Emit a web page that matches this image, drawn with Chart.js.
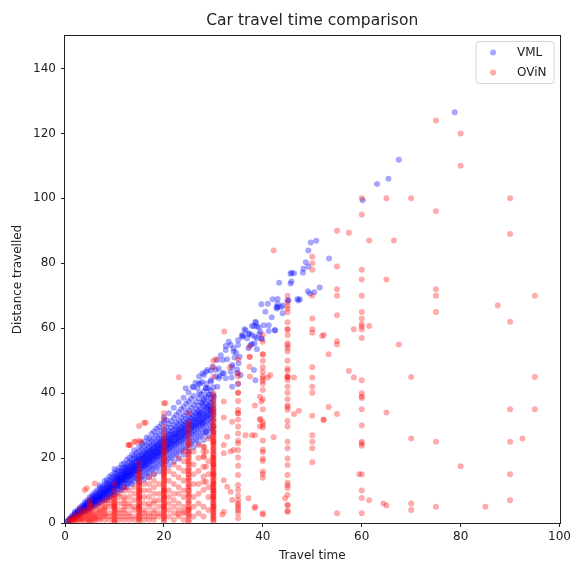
<!DOCTYPE html>
<html lang="en">
<head>
    <meta charset="UTF-8">
    <title>Car travel time comparison</title>
    <script src="https://cdn.jsdelivr.net/npm/chart.js"></script>
    <style>
        body {
            margin: 0;
            background-color: #fff;
        }
        #wrap {
            width: 574px;
            height: 562px;
        }
    </style>
</head>
<body>

<div id="wrap">
    <canvas id="travelChart" width="574" height="562"></canvas>
</div>

<script>
    // axis ticks
    const timeTicks = [0, 20, 40, 60, 80, 100];
    const distTicks = [0, 20, 40, 60, 80, 100, 120, 140];

    // VML: dense band, [travel time, [distances...]]
    const vmlBandShort = [
        [0.5, [0.3, 0.5, 0.7]],
        [1, [0.8, 1.0, 1.2, 1.5]],
        [1.5, [1.2, 1.5, 1.8, 2.0, 2.4]],
        [2, [1.7, 2.1, 2.4, 2.6, 3.0, 3.4]],
        [2.5, [2.2, 2.6, 2.9, 3.2, 3.5, 4.0]],
        [3, [2.6, 3.0, 3.3, 3.6, 3.9, 4.3, 4.8]],
        [3.5, [3.1, 3.6, 3.9, 4.2, 4.5, 4.9, 5.5]],
        [4, [3.5, 3.9, 4.3, 4.6, 4.9, 5.3, 5.8, 6.4]],
        [4.5, [3.9, 4.4, 4.8, 5.1, 5.5, 5.9, 6.3, 7.0]],
        [5, [4.4, 4.9, 5.3, 5.6, 5.9, 6.3, 6.7, 7.2, 7.9]],
        [5.5, [4.8, 5.4, 5.8, 6.2, 6.5, 6.9, 7.4, 8.0, 8.7]],
        [6, [5.3, 5.8, 6.4, 6.7, 7.1, 7.4, 7.9, 8.5, 9.4]],
        [6.5, [5.7, 6.3, 6.8, 7.2, 7.6, 8.1, 8.5, 9.2, 10.1]],
        [7, [6.2, 6.9, 7.4, 7.8, 8.2, 8.6, 9.1, 9.9, 10.8, 11.6]],
        [7.5, [6.6, 7.3, 7.9, 8.3, 8.8, 9.3, 9.6, 10.4, 11.2]],
        [8, [7.0, 7.8, 8.5, 8.9, 9.3, 9.8, 10.3, 10.9, 11.8, 12.9]],
        [8.5, [7.5, 8.2, 8.9, 9.5, 9.9, 10.3, 10.9, 11.6, 12.4, 13.4]],
        [9, [7.9, 8.8, 9.5, 10.0, 10.4, 10.9, 11.5, 12.1, 13.0, 14.3]],
        [9.5, [8.4, 9.2, 10.0, 10.6, 11.0, 11.6, 12.1, 12.8, 13.8, 14.8]],
        [10, [8.8, 9.7, 10.5, 11.1, 11.5, 12.0, 12.7, 13.3, 14.2, 15.5, 16.6]]
    ];
    const vmlBandMid = [
        [10.5, [9.4, 10.6, 11.3, 11.7, 12.0, 12.6, 12.8, 13.5, 13.9, 14.3, 15.2, 16.1]],
        [11, [10.3, 11.4, 11.9, 12.3, 12.9, 13.2, 13.8, 14.1, 14.7, 15.8, 17.0]],
        [11.5, [10.2, 10.9, 12.5, 12.8, 13.4, 13.6, 14.2, 14.9, 15.3, 16.0, 16.8, 18.1]],
        [12, [11.2, 12.4, 13.0, 13.7, 14.0, 14.5, 15.1, 15.4, 16.3, 17.1, 18.4]],
        [12.5, [11.1, 12.0, 13.3, 13.9, 14.4, 14.8, 15.5, 15.9, 16.6, 17.2, 17.9, 19.5]],
        [13, [12.3, 13.1, 14.2, 14.5, 15.1, 15.6, 16.0, 16.8, 17.4, 18.6, 20.1]],
        [13.5, [11.9, 13.5, 14.6, 15.0, 15.7, 16.3, 16.6, 17.2, 18.1, 18.5, 19.5, 21.0]],
        [14, [12.8, 14.1, 15.2, 15.8, 16.2, 16.9, 17.5, 17.8, 18.7, 19.9, 20.8, 22.4]],
        [14.5, [13.6, 14.7, 15.9, 16.4, 17.1, 17.3, 18.0, 18.9, 19.4, 20.3, 21.7]],
        [15, [12.4, 13.9, 15.4, 16.2, 16.7, 17.6, 18.1, 18.5, 19.2, 19.9, 20.6, 22.0, 23.5]],
        [15.5, [14.2, 15.8, 16.8, 17.5, 17.9, 18.6, 19.4, 19.8, 20.7, 21.2, 22.8, 24.6]],
        [16, [13.3, 14.8, 16.5, 17.4, 18.2, 18.6, 19.3, 20.0, 20.4, 21.3, 22.0, 23.5, 25.0]],
        [16.5, [15.3, 16.9, 17.9, 18.3, 19.1, 19.8, 20.3, 21.1, 21.6, 22.5, 24.0, 26.3]],
        [17, [14.2, 15.6, 17.2, 18.5, 19.0, 19.6, 20.4, 20.8, 21.7, 22.3, 23.3, 24.7, 26.0]],
        [17.5, [16.4, 17.8, 19.0, 19.7, 20.1, 20.9, 21.5, 22.2, 22.8, 23.9, 25.4, 27.5]],
        [18, [15.0, 16.7, 18.3, 19.5, 20.3, 20.8, 21.6, 22.0, 22.9, 23.6, 24.5, 26.1, 28.2]],
        [18.5, [17.2, 18.9, 20.1, 20.6, 21.4, 22.1, 22.6, 23.4, 24.0, 25.1, 26.9, 29.0]],
        [19, [15.9, 17.6, 19.4, 20.6, 21.3, 21.9, 22.7, 23.2, 24.1, 24.7, 25.8, 27.4, 29.6]],
        [19.5, [18.3, 19.9, 21.2, 21.8, 22.5, 23.1, 23.9, 24.4, 25.3, 26.2, 28.3, 30.6]],
        [20, [16.8, 18.6, 20.4, 21.7, 22.2, 23.0, 23.6, 24.5, 25.0, 25.9, 27.0, 28.9, 31.2, 32.6]]
    ];
    const vmlBandLong = [
        [20.5, [19.1, 20.9, 22.3, 22.8, 23.7, 24.2, 25.1, 25.9, 26.6, 27.8, 29.6, 31.7]],
        [21, [17.8, 19.7, 21.5, 22.9, 23.5, 24.3, 25.0, 25.7, 26.4, 27.3, 28.4, 30.5, 33.8]],
        [21.5, [20.2, 22.0, 23.4, 24.1, 24.9, 25.6, 26.2, 27.1, 28.0, 29.3, 31.4]],
        [22, [18.9, 20.8, 22.6, 24.0, 24.6, 25.4, 26.3, 27.0, 27.6, 28.7, 30.2, 32.4, 35.5]],
        [22.5, [21.3, 23.1, 24.5, 25.2, 26.0, 26.9, 27.4, 28.5, 29.4, 30.9, 33.3]],
        [23, [19.8, 21.9, 23.7, 25.1, 25.7, 26.6, 27.5, 28.1, 28.9, 30.0, 31.6, 34.1, 37.2]],
        [23.5, [22.4, 24.3, 25.6, 26.4, 27.2, 28.0, 28.8, 29.6, 30.7, 32.5, 35.0]],
        [24, [21.0, 22.9, 24.8, 26.2, 26.9, 27.8, 28.6, 29.3, 30.2, 31.4, 33.2, 35.7, 38.6]],
        [24.5, [23.4, 25.4, 26.7, 27.6, 28.3, 29.2, 30.0, 30.9, 32.1, 34.0, 36.7]],
        [25, [22.0, 24.0, 25.9, 27.4, 28.1, 29.0, 29.8, 30.6, 31.5, 32.8, 34.7, 37.4, 40.2]],
        [25.5, [24.6, 26.4, 27.9, 28.8, 29.7, 30.3, 31.3, 32.2, 33.6, 35.6, 38.3]],
        [26, [23.3, 25.2, 27.1, 28.5, 29.4, 30.1, 31.0, 31.9, 32.9, 34.3, 36.4, 39.1, 41.8]],
        [26.5, [25.7, 27.6, 29.1, 30.0, 30.8, 31.7, 32.6, 33.7, 35.2, 37.3]],
        [27, [24.5, 26.3, 28.2, 29.8, 30.6, 31.5, 32.3, 33.3, 34.5, 36.1, 38.4, 42.9]],
        [27.5, [26.9, 28.8, 30.3, 31.2, 32.1, 33.0, 34.0, 35.2, 37.0, 39.6]],
        [28, [25.6, 27.5, 29.4, 30.9, 31.8, 32.7, 33.6, 34.7, 36.0, 37.8, 40.5]],
        [28.5, [28.0, 29.9, 31.4, 32.4, 33.3, 34.3, 35.5, 36.9, 38.8, 41.6]],
        [29, [26.7, 28.6, 30.6, 32.1, 33.0, 33.9, 35.0, 36.2, 37.6, 39.7]],
        [29.5, [29.2, 31.1, 32.6, 33.6, 34.6, 35.7, 37.0, 38.5, 40.7]],
        [30, [27.9, 29.8, 31.8, 33.3, 34.3, 35.3, 36.4, 37.7, 39.4, 41.8]]
    ];
    // VML: single trips, [travel time, distance]
    const vmlSparse = [
        [27.8, 46.1], [28.8, 47.1], [29.8, 48.1], [27.4, 43], [28.5, 41.5], [29.5, 43.5], [27.1, 39.9],
        [28.1, 38.4], [29.1, 39.4], [30.1, 38.9], [27.8, 36.9], [28.8, 35.8], [29.5, 34.8], [27.1, 33.8],
        [27.8, 30.7], [28.5, 28.1], [30.8, 50.2], [31.5, 51.7], [32.5, 53.3], [33.5, 54.8], [34.1, 52.8],
        [35, 54.8], [35.8, 57.4], [36.8, 56.9], [37.8, 57.9], [38.8, 56.9], [39.5, 58.9], [33.8, 48.1],
        [34.8, 46.1], [35.5, 45.6], [31.8, 46.1], [30.5, 47.1], [31.1, 44.6], [32.5, 44.6], [33.5, 46.6],
        [35.1, 49.2], [38.5, 44], [37.1, 53.8], [27.1, 45.1], [28.1, 45.6], [27.7, 43.5], [28.6, 43],
        [29.5, 44], [30.5, 45.1], [26.4, 43.2], [25.8, 42], [24.4, 41.5], [26.8, 41.5], [29, 41.5],
        [30.8, 42], [33.8, 42], [35, 42.8], [28.5, 46.6], [29.5, 46.9], [31.1, 47.6], [32.1, 46.1],
        [33.7, 44.8], [31.3, 45.3], [31.9, 50.2], [32.8, 50.4], [34.3, 51], [33.8, 48.7], [34.8, 47.3],
        [38.2, 47.1], [35, 56.4], [34.1, 53.8], [33.1, 55.8], [32.5, 54.5], [34.6, 52.4], [35.3, 51.2],
        [38.6, 61.7], [38.2, 60.7], [39.2, 60.3], [40.2, 60.9], [41.2, 60.9], [42.4, 59.4], [36.5, 59.4],
        [35.8, 57.9], [37.1, 58.2], [38.4, 57.4], [39.8, 56.6], [37.8, 55.1], [38.8, 53.5], [36, 57.6],
        [42, 68.9], [42.8, 66.6], [39.7, 67.4], [40.5, 65.1], [41.8, 63.4], [50.8, 86.9], [49.7, 86.4],
        [49.2, 83.9], [53.4, 81.5], [48.7, 80.3], [49.2, 79], [48.2, 78.3], [48.1, 77.1], [45.8, 77.1],
        [46.3, 76.9], [45.6, 76.8], [45.8, 74.4], [45.6, 73.8], [43.3, 74], [49.1, 71.4], [49.5, 70.7],
        [50.4, 71.1], [51.5, 72.5], [47.5, 68.9], [47.2, 68.5], [45.2, 68.5], [43, 66.4], [44, 64.6],
        [42.8, 66.1], [38.5, 62], [37.8, 60.7], [38.8, 60.5], [36.3, 59.7], [37.3, 58.4], [39.3, 58.2],
        [41.2, 59.1], [39.7, 56.9], [42.5, 59.4], [38.3, 55.3], [37.5, 54.8], [43, 69], [43, 67.5],
        [44, 67], [43.7, 66.5], [41, 67.5], [45, 68.6], [47, 69], [60.2, 99.4], [63.1, 104.4],
        [65.4, 106], [67.5, 111.9], [78.8, 126.5]
    ];

    // OViN: reported times cluster on whole minutes, [travel time, [distances...]]
    const ovinColumns = [
        [1, [0.3, 0.6, 1.0, 0.5, 1.3]],
        [2, [0.5, 1.0, 1.5, 2.0, 0.8, 2.5, 1.2]],
        [3, [0.5, 1.0, 1.5, 2.0, 2.5, 3.0, 1.2, 4.4]],
        [4, [0.5, 1.0, 1.5, 2.0, 3.0, 2.5, 4.0, 3.5, 10.2]],
        [5, [0.3, 0.5, 1, 1.5, 2, 2.5, 3, 3.5, 4, 4.5, 5, 5.5, 6, 7]],
        [6, [0.5, 1, 1.5, 2, 2.5, 3, 4, 5, 12.2]],
        [7, [1, 1.5, 2, 3, 3.5, 4, 5, 6]],
        [8, [1, 2, 2.5, 3, 4, 4.5, 5, 6, 7]],
        [9, [1, 2, 3, 5, 6, 7, 8]],
        [10, [0.3, 0.5, 1, 1.5, 2, 2.5, 3, 3.5, 4, 4.5, 5, 5, 5.5, 6, 6.5, 7, 7.5, 8, 8.6, 10, 12]],
        [11, [1, 2, 3, 4, 6, 8, 9]],
        [12, [1, 2, 3, 4, 5, 6, 7, 8, 10, 11]],
        [13, [1, 2, 3, 5, 6, 8, 10, 24]],
        [14, [1, 2, 4, 5, 7, 9, 11, 25]],
        [15, [0.5, 1, 1.5, 2, 2.5, 3, 3.5, 4, 4.5, 5, 5, 5.5, 6, 6.5, 7, 7.5, 8, 8, 8.5, 9, 9.5, 10, 10,
            10.5, 11, 11.5, 12, 12.5, 13, 13.5, 14, 14.5, 15, 15.3, 16, 17, 18.4, 25.3, 29.9]],
        [16, [1, 2, 3, 4, 6, 8, 10, 12, 30.9]],
        [17, [1, 2, 3, 5, 6, 8, 10, 12, 14]],
        [18, [1, 2, 3, 4, 6, 7, 9, 11, 13, 15]],
        [19, [2, 3, 5, 7, 9, 12]],
        [20, [0.5, 1, 1.5, 2, 2.5, 3, 3.5, 4, 4.5, 5, 5, 5.5, 6, 6.5, 7, 7.5, 8, 8, 8.5, 9, 9.5, 10, 10,
            10.5, 11, 11.5, 12, 12.5, 13, 13.5, 14, 14.5, 15, 15, 15.5, 16, 16.5, 17, 17.5, 18, 18.5, 19,
            19.5, 20, 20, 21, 21.5, 22, 22.5, 23, 24, 24.5, 25, 26, 27, 28, 29.7, 32, 33.8, 36.9]],
        [21, [2, 4, 6, 8, 10, 13, 16]],
        [22, [1, 3, 5, 7, 9, 12, 15, 18]],
        [23, [2, 4, 6, 9, 11, 14, 17, 20, 44.9]],
        [24, [1, 3, 5, 8, 10, 13, 16, 19, 22]],
        [25, [0.5, 1, 2, 2.5, 3, 4, 4.5, 5, 6, 6.5, 7, 8, 8.5, 9, 10, 10, 11, 11.5, 12, 13, 13.5, 14, 15,
            15, 16, 16.5, 17, 18, 18.5, 19, 20, 20, 21, 21.5, 22, 23, 24, 24.5, 25, 26, 27, 28, 29, 30,
            31, 33.8]],
        [26, [2, 5, 8, 12, 15, 18, 22]],
        [27, [3, 6, 9, 12, 16, 20, 24]],
        [28, [2, 5, 10.2, 12.7, 14.3, 17.3, 20.4, 22, 23.5]],
        [29, [4, 8, 11, 15, 19, 26]],
        [30, [0.5, 1, 1.5, 2, 2.5, 3, 3.5, 4, 4.5, 5, 5, 5.5, 6, 6.5, 7, 7.5, 8, 8, 8.5, 9, 9.5, 10, 10,
            10.5, 11, 11.5, 12, 12, 12.5, 13, 13.5, 14, 14.5, 15, 15, 15.5, 16, 16.5, 17, 17.5, 18, 18,
            18.5, 19, 19.5, 20, 20, 20.5, 21, 21.5, 22, 22.5, 23, 23.5, 24, 24.5, 25, 25, 25.5, 26, 26.5,
            27, 27.5, 28, 28.5, 29, 29.5, 30, 30, 31, 31.5, 32, 33, 33.5, 34, 35, 35, 36, 37, 38, 39, 40,
            45, 48, 50]],
        [35, [1.5, 3.1, 4, 4.6, 5.5, 6, 7.1, 8.4, 10.2, 11.7, 14.8, 17.6, 20.2, 22.5, 24.6, 25.3, 27.6,
            29.7, 31.9, 33.8, 33.8, 34.8, 37.6, 40.1, 40.1, 43, 45.1, 46.1, 50.4]],
        [40, [2.6, 3, 13.9, 15.1, 15.9, 19.1, 19.9, 21.9, 22.6, 25.4, 29.4, 30.2, 31, 35, 38.1, 41, 42.9,
            43.7, 44.5, 45.1, 46.6, 48, 50, 51.9, 52, 55.8, 57.9]],
        [45, [3.5, 3.7, 5.4, 5.6, 8.6, 10.8, 11.6, 12.4, 14.8, 17.9, 19.9, 23, 25, 29.7, 31.4, 34.9, 35.7,
            36.2, 38.1, 40.1, 42, 44, 44.8, 45.1, 45.1, 46.9, 47.6, 50, 52.8, 53.9, 54.7, 55.4, 57.9,
            59.6, 59.7, 61.8, 64.9, 66, 66.8, 68, 70]],
        [50, [18.7, 23, 25, 27, 33, 40.1, 42, 44.8, 48, 58.6, 59.7, 63, 70, 78, 80, 82]],
        [55, [3, 33.6, 55, 56, 64, 70, 72, 79, 90]],
        [60, [3, 7.7, 10, 15, 23.8, 24.5, 25, 30, 35, 38.5, 39, 40, 44, 57, 59.7, 60.5, 61.3, 63, 65,
            70, 75, 78, 95, 100]],
        [65, [5.4, 34, 75, 100]],
        [70, [4, 6, 26, 45, 100]],
        [75, [5, 25, 65, 70, 72, 96, 124]],
        [80, [17.5, 110, 120]],
        [90, [7, 15, 25, 35, 62, 89, 100]],
        [95, [35, 45, 70]]
    ];
    // OViN: trips off the whole-minute columns, [travel time, distance]
    const ovinScatter = [
        [4.4, 10.7], [12.8, 24], [13.2, 24], [16.3, 30.9], [14.3, 25], [15.4, 25], [20.3, 36.9],
        [32.2, 59], [30.5, 50.4], [31.8, 2.6], [32.1, 3.5], [32.1, 13.2], [32.8, 11.2], [33.5, 9.6],
        [33.8, 7.1], [32.1, 21.5], [32.1, 24], [33.5, 22], [34.1, 22.5], [32.8, 26.6], [33.8, 31.2],
        [32.1, 32.5], [32.1, 37.4], [33.3, 48], [28.1, 20.4], [28.5, 22], [28.1, 23.5], [28.5, 17.3],
        [28.5, 12.7], [22.9, 2.8], [24, 3.5], [25, 4], [36.5, 27], [37.8, 27], [38.4, 27], [37.1, 7.6],
        [38.5, 5], [38.3, 4.6], [37.3, 51.2], [37.3, 54.3], [37.3, 48.1], [37.4, 45.1], [38.4, 36.2],
        [39.4, 38.9], [39.4, 31.8], [39.4, 29.7], [39.7, 37.4], [39.5, 32], [37.4, 51.1], [41.5, 45.6],
        [41, 44.8], [42.2, 26.4], [42.2, 83.9], [44.5, 7.6], [46.3, 33.6], [47.3, 34.6], [46.3, 44.8],
        [52.3, 57.9], [53.3, 52], [52, 57.6], [52.3, 31.8], [52.3, 31.8], [53.3, 35.7], [57.4, 46.8],
        [58.4, 44.8], [58.4, 59.7], [57.4, 89.4], [59.5, 15], [61.5, 60.7], [61.5, 87], [61.5, 7],
        [64.4, 6], [66.5, 87], [67.5, 55], [87.5, 67], [85, 5], [92.5, 26]
    ];

    function columnPoints(columns) {
        const pts = [];
        columns.forEach(([t, dists]) => dists.forEach(d => pts.push({x: t, y: d})));
        return pts;
    }
    function pairPoints(pairs) {
        return pairs.map(([t, d]) => ({x: t, y: d}));
    }

    const vmlPoints = columnPoints(vmlBandShort)
        .concat(columnPoints(vmlBandMid), columnPoints(vmlBandLong), pairPoints(vmlSparse));
    const ovinPoints = columnPoints(ovinColumns).concat(pairPoints(ovinScatter));

    const vmlColor = 'rgba(0, 0, 255, 0.35)';
    const ovinColor = 'rgba(255, 0, 0, 0.33)';
    const inkColor = '#222';

    // box round the plot and a matplotlib-like legend in the top right corner
    const frameAndLegend = {
        id: 'frameAndLegend',
        afterDraw(chart) {
            const {ctx, chartArea: a} = chart;
            ctx.save();
            ctx.strokeStyle = inkColor;
            ctx.lineWidth = 1;
            ctx.strokeRect(Math.round(a.left) - 0.5, Math.round(a.top) - 0.5,
                Math.round(a.right - a.left) + 1, Math.round(a.bottom - a.top) + 1);

            const bx = a.right - 83.5, by = a.top + 5.5, bw = 78, bh = 42;
            ctx.beginPath();
            ctx.roundRect(bx, by, bw, bh, 3);
            ctx.fillStyle = 'rgba(255, 255, 255, 0.8)';
            ctx.fill();
            ctx.strokeStyle = '#d5d5d5';
            ctx.stroke();

            ctx.font = '12px "DejaVu Sans"';
            ctx.textBaseline = 'middle';
            ctx.textAlign = 'left';
            chart.data.datasets.forEach((ds, i) => {
                const rowY = by + 11 + i * 20;
                ctx.beginPath();
                ctx.arc(bx + 17, rowY, 3, 0, Math.PI * 2);
                ctx.fillStyle = ds.backgroundColor;
                ctx.fill();
                ctx.fillStyle = inkColor;
                ctx.fillText(ds.label, bx + 41, rowY);
            });
            ctx.restore();
        }
    };

    Chart.defaults.font.family = '"DejaVu Sans", sans-serif';

    new Chart(document.getElementById('travelChart'), {
        type: 'scatter',
        data: {
            datasets: [
                {
                    label: 'VML',
                    data: vmlPoints,
                    backgroundColor: vmlColor,
                    pointRadius: 3,
                    pointBorderWidth: 0,
                    order: 1
                },
                {
                    label: 'OViN',
                    data: ovinPoints,
                    backgroundColor: ovinColor,
                    pointRadius: 3,
                    pointBorderWidth: 0,
                    order: 0
                }
            ]
        },
        options: {
            responsive: false,
            animation: false,
            events: [],
            layout: {
                padding: {left: 0, right: 9, top: 0, bottom: 0}
            },
            plugins: {
                legend: {display: false},
                tooltip: {enabled: false},
                title: {
                    display: true,
                    text: 'Car travel time comparison',
                    fullSize: false,
                    color: inkColor,
                    font: {size: 15.5, weight: 'normal', lineHeight: 1.2},
                    padding: {top: 12, bottom: 5.4}
                }
            },
            scales: {
                x: {
                    type: 'linear',
                    min: 0,
                    max: 100,
                    afterBuildTicks: scale => {
                        scale.ticks = timeTicks.map(v => ({value: v}));
                    },
                    afterFit: scale => {
                        scale.height = 39;
                    },
                    ticks: {color: inkColor, font: {size: 12}, padding: 3, maxRotation: 0},
                    grid: {display: true, drawOnChartArea: false, drawTicks: true, tickLength: 4, color: inkColor},
                    border: {display: false},
                    title: {
                        display: true,
                        text: 'Travel time',
                        color: inkColor,
                        font: {size: 12, lineHeight: 1},
                        padding: {top: 0, bottom: 0}
                    }
                },
                y: {
                    type: 'linear',
                    min: 0,
                    max: 150,
                    afterBuildTicks: scale => {
                        scale.ticks = distTicks.map(v => ({value: v}));
                    },
                    afterFit: scale => {
                        scale.width = 65;
                    },
                    ticks: {color: inkColor, font: {size: 12}, padding: 5},
                    grid: {display: true, drawOnChartArea: false, drawTicks: true, tickLength: 4, color: inkColor},
                    border: {display: false},
                    title: {
                        display: true,
                        text: 'Distance travelled',
                        color: inkColor,
                        font: {size: 12, lineHeight: 1},
                        padding: {top: 12, bottom: 0}
                    }
                }
            }
        },
        plugins: [frameAndLegend]
    });
</script>

</body>
</html>
